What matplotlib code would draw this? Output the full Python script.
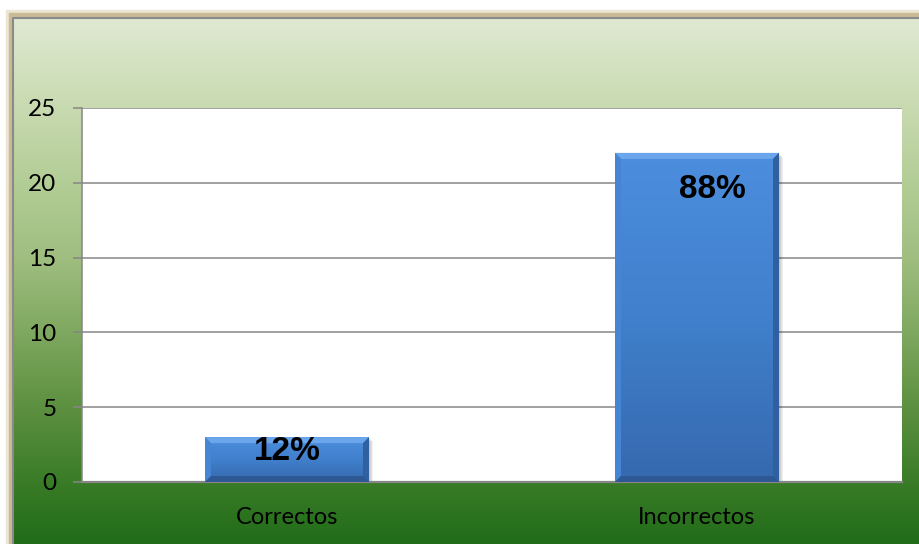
import numpy as np
import matplotlib.pyplot as plt
from matplotlib.colors import LinearSegmentedColormap
from matplotlib.patches import Polygon, Rectangle

categories = ['Correctos', 'Incorrectos']
counts = [3, 22]
percent_labels = ['12%', '88%']
y_ticks = [0, 5, 10, 15, 20, 25]

# label offsets inside each bar, in pixels (x, y)
label_offsets = [(0, -14), (15, -37)]

W, H = 920, 544
fig = plt.figure(figsize=(W / 100, H / 100), dpi=100)
fig.patch.set_facecolor('white')

# chart area background (green gradient with a frame)
green = LinearSegmentedColormap.from_list('green', [
  (0.0, '#dfe9d2'), (0.171, '#c8dab0'), (0.314, '#b3cd96'), (0.456, '#9fbe80'),
  (0.597, '#7fa860'), (0.74, '#5d9040'), (0.882, '#3a7c28'), (1.0, '#216c19')])

bg = fig.add_axes([0, 0, 1, 1])
bg.set_xlim(0, W)
bg.set_ylim(H, 0)
bg.axis('off')
bg.add_patch(Rectangle((6, 10), W, H, color='#ece5d3', zorder=0))
bg.add_patch(Rectangle((9, 13), W, H, color='#c9bb95', zorder=0))
grad = np.linspace(0, 1, 256).reshape(-1, 1)
bg.imshow(grad, cmap=green, extent=(13, W, H, 18), aspect='auto', zorder=1)
bg.plot([13, 13, W], [H, 18, 18], color='#8a8a8a', lw=1.5, zorder=2)

ax = fig.add_axes([82 / W, (H - 482) / H, 820 / W, 374 / H])
ax.set_zorder(2)
ax.set_facecolor('white')

x = np.arange(len(categories))
bar_w = 0.4
bars = ax.bar(x, counts, width=bar_w, color='#3f7ccb', zorder=3)
ax.set_xlim(-0.5, len(categories) - 0.5)
ax.set_ylim(0, 25)

px_x = 820 / (len(categories))  # pixels per x unit
px_y = 374 / 25                 # pixels per y unit

blue = LinearSegmentedColormap.from_list('blue', ['#4c8ede', '#4080cc', '#3669ae'])
t = 6
for xi, h, bar in zip(x, counts, bars):
  x0, x1 = xi - bar_w / 2, xi + bar_w / 2
  # soft shadow
  for k in range(1, 5):
    ax.add_patch(Rectangle((x0 + k / px_x, -k / px_y), bar_w, h, color='black',
                           alpha=0.06, lw=0, zorder=2))
  im = ax.imshow(grad, cmap=blue, extent=(x0, x1, 0, h), aspect='auto', zorder=3)
  im.set_clip_path(bar)
  dx, dy = t / px_x, t / px_y
  ax.add_patch(Polygon([(x0, h), (x1, h), (x1 - dx, h - dy), (x0 + dx, h - dy)],
                       color='#6ba6ec', lw=0, zorder=4))
  ax.add_patch(Polygon([(x0, 0), (x0, h), (x0 + dx, h - dy), (x0 + dx, dy)],
                       color='#4685d3', lw=0, zorder=4))
  ax.add_patch(Polygon([(x1, 0), (x1, h), (x1 - dx, h - dy), (x1 - dx, dy)],
                       color='#30609f', lw=0, zorder=4))
  ax.add_patch(Polygon([(x0, 0), (x1, 0), (x1 - dx, dy), (x0 + dx, dy)],
                       color='#2d5893', lw=0, zorder=4))

ax.set_xlim(-0.5, len(categories) - 0.5)
ax.set_ylim(0, 25)

for xi, h, lab, off in zip(x, counts, percent_labels, label_offsets):
  ax.annotate(lab, xy=(xi, h), xytext=off, textcoords='offset pixels',
              ha='center', va='center', fontsize=24, fontweight='bold',
              family='Liberation Sans', color='black', zorder=6)

ax.set_yticks(y_ticks)
ax.set_xticks(x)
ax.set_xticklabels(categories)
ax.yaxis.grid(True, color='#868686', lw=1.1, zorder=1)
ax.set_axisbelow(True)
ax.tick_params(axis='y', length=6.5, width=1.1, color='#868686', labelsize=17.5, pad=12)
ax.tick_params(axis='x', length=0, labelsize=17, pad=18)
for lab in ax.get_xticklabels() + ax.get_yticklabels():
  lab.set_family('Lato')
for side in ['top', 'right']:
  ax.spines[side].set_visible(False)
ax.spines['left'].set_color('#868686')
ax.spines['left'].set_linewidth(1.1)
ax.spines['bottom'].set_color('#868686')
ax.spines['bottom'].set_linewidth(1.6)

fig.savefig('out.png', dpi=100)
